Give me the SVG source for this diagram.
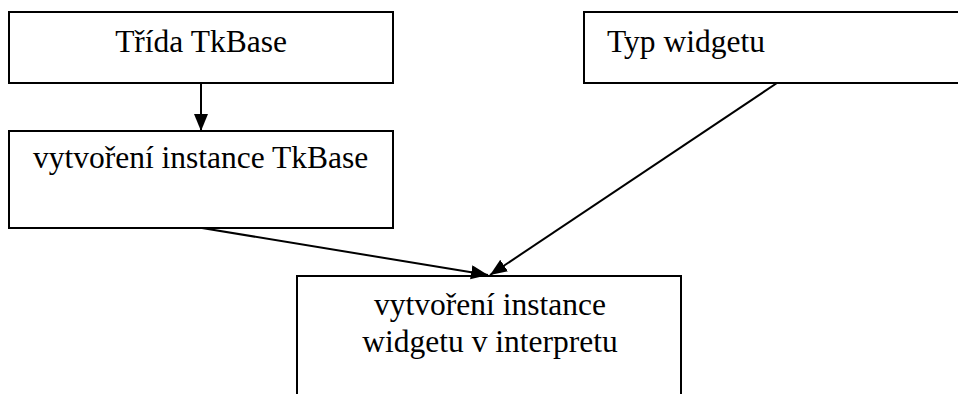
<svg xmlns="http://www.w3.org/2000/svg" width="958" height="394" viewBox="0 0 958 394">
<style>
.box{fill:#fff;stroke:#000;stroke-width:2}
.t{font-family:"Liberation Serif","Times New Roman",serif;font-size:31.5px;fill:#000}
.c{stroke:#000;stroke-width:2;fill:none}
</style>
<defs>
<marker id="ah" markerUnits="userSpaceOnUse" markerWidth="20" markerHeight="16" refX="17" refY="7" orient="auto">
<path d="M0,0 L17,7 L0,14 z" fill="#000"/>
</marker>
</defs>
<rect width="958" height="394" fill="#fff"/>
<g id="n1">
<rect class="box" x="9" y="12" width="384" height="71"/>
<text class="t" x="201" y="52" text-anchor="middle">Třída TkBase</text>
</g>
<g id="n2">
<rect class="box" x="9" y="131" width="384" height="97"/>
<text class="t" x="33" y="168">vytvoření instance TkBase</text>
</g>
<g id="n3">
<rect class="box" x="584" y="12" width="390" height="71"/>
<text class="t" x="607" y="52">Typ widgetu</text>
</g>
<g id="n4">
<rect class="box" x="297" y="276" width="384" height="130"/>
<text class="t" x="490" y="315" text-anchor="middle">vytvoření instance</text>
<text class="t" x="490" y="352" text-anchor="middle">widgetu v interpretu</text>
</g>
<g id="connectors">
<line class="c" x1="201" y1="83" x2="201" y2="131" marker-end="url(#ah)"/>
<line class="c" x1="202" y1="228" x2="488" y2="275" marker-end="url(#ah)"/>
<line class="c" x1="777" y1="83" x2="490" y2="275" marker-end="url(#ah)"/>
</g>
</svg>
